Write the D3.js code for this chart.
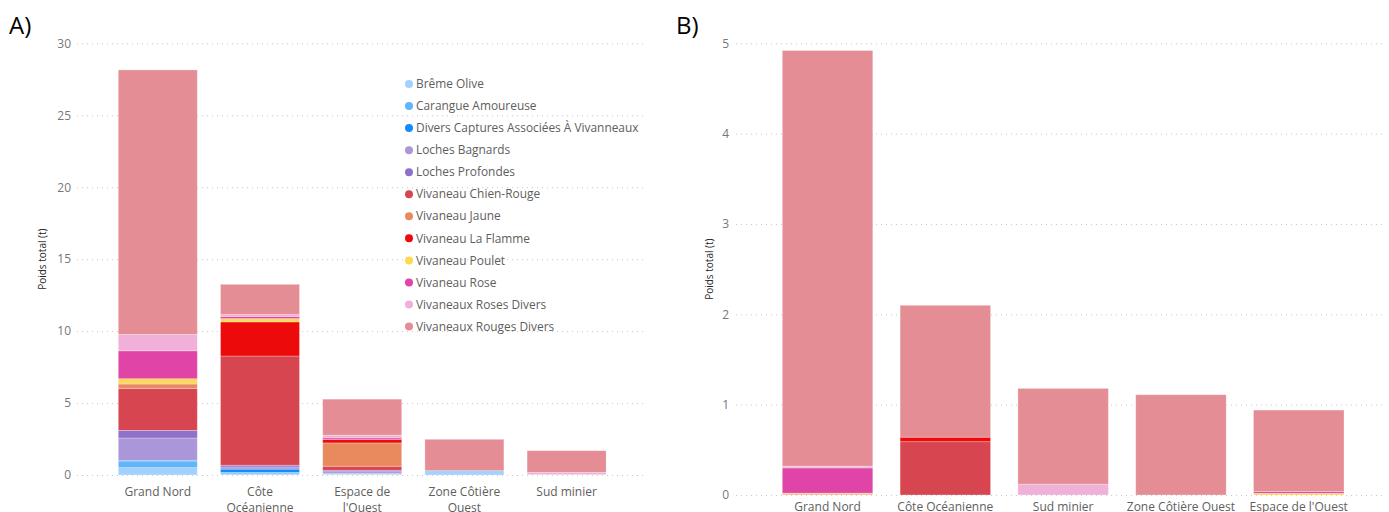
<!DOCTYPE html>
<html>
<head>
<meta charset="utf-8">
<script src="https://cdn.jsdelivr.net/npm/d3@7"></script>
<style>
  html, body { margin: 0; padding: 0; background: #fff; }
  svg { display: block; font-family: "Open Sans", "Noto Sans", sans-serif; }
</style>
</head>
<body>
<svg id="chart" width="1389" height="512"></svg>
<script>
// Species (stack order, bottom to top) and their colours
const species = [
  "Brême Olive", "Carangue Amoureuse", "Divers Captures Associées À Vivanneaux",
  "Loches Bagnards", "Loches Profondes", "Vivaneau Chien-Rouge", "Vivaneau Jaune",
  "Vivaneau La Flamme", "Vivaneau Poulet", "Vivaneau Rose",
  "Vivaneaux Roses Divers", "Vivaneaux Rouges Divers"
];
const speciesColors = [
  "#A0D1FF", "#62B5FB", "#118DFF", "#AB96DA", "#8F70CB", "#D64550", "#E98A5E",
  "#EC0A0A", "#FFD94F", "#E044A7", "#F1B0D8", "#E48D95"
];

// Panel A: total weight per zone (t)
const zonesA = ["Grand Nord", "Côte Océanienne", "Espace de l'Ouest", "Zone Côtière Ouest", "Sud minier"];
const valuesA = [
  [0.51, 0.08, 0.05, 0.30, 0.03],
  [0.46, 0.10, 0.03, 0.00, 0.00],
  [0.05, 0.23, 0.02, 0.00, 0.00],
  [1.55, 0.15, 0.13, 0.00, 0.00],
  [0.53, 0.12, 0.10, 0.00, 0.00],
  [2.92, 7.59, 0.28, 0.00, 0.00],
  [0.30, 0.00, 1.62, 0.00, 0.00],
  [0.04, 2.37, 0.24, 0.00, 0.00],
  [0.33, 0.23, 0.00, 0.00, 0.00],
  [1.94, 0.15, 0.11, 0.00, 0.00],
  [1.14, 0.13, 0.19, 0.00, 0.15],
  [18.38, 2.10, 2.50, 2.18, 1.51]
];
const ticksA = [0, 5, 10, 15, 20, 25, 30];

// Panel B: total weight per zone (t)
const zonesB = ["Grand Nord", "Côte Océanienne", "Sud minier", "Zone Côtière Ouest", "Espace de l'Ouest"];
const valuesB = [
  [0.00, 0.00, 0.00, 0.00, 0.00],
  [0.00, 0.00, 0.00, 0.00, 0.00],
  [0.00, 0.00, 0.00, 0.00, 0.00],
  [0.00, 0.00, 0.00, 0.00, 0.00],
  [0.00, 0.00, 0.00, 0.00, 0.00],
  [0.00, 0.59, 0.00, 0.00, 0.00],
  [0.01, 0.00, 0.00, 0.00, 0.00],
  [0.00, 0.05, 0.00, 0.00, 0.00],
  [0.01, 0.00, 0.00, 0.00, 0.02],
  [0.28, 0.00, 0.00, 0.00, 0.02],
  [0.02, 0.00, 0.12, 0.00, 0.00],
  [4.60, 1.46, 1.06, 1.11, 0.90]
];
const ticksB = [0, 1, 2, 3, 4, 5];

const yTitle = "Poids total (t)";

const svg = d3.select("#chart");

function wrapLabel(text, width) {
  text.each(function () {
    const t = d3.select(this);
    const words = t.text().split(/\s+/);
    const x = t.attr("x"), y = t.attr("y");
    t.text(null);
    let line = [];
    let lineNo = 0;
    let tspan = t.append("tspan").attr("x", x).attr("y", y);
    for (const w of words) {
      line.push(w);
      tspan.text(line.join(" "));
      if (tspan.node().getComputedTextLength() > width && line.length > 1) {
        line.pop();
        tspan.text(line.join(" "));
        line = [w];
        lineNo++;
        tspan = t.append("tspan").attr("x", x).attr("y", +y + lineNo * 16).text(w);
      }
    }
  });
}

function drawPanel(opt) {
  const g = svg.append("g");
  const y = d3.scaleLinear().domain([0, opt.ymax]).range([opt.y0, opt.y1]);
  const x = d3.scaleBand().domain(opt.zones)
    .range([opt.xStart, opt.xEnd]).paddingInner(opt.pad).paddingOuter(opt.pad / 2);

  // dotted gridlines
  g.selectAll("line.grid").data(opt.ticks).join("line")
    .attr("class", "grid")
    .attr("x1", opt.gridX0).attr("x2", opt.gridX1)
    .attr("y1", d => y(d) + 0.5).attr("y2", d => y(d) + 0.5)
    .attr("stroke", "#c8c8c8").attr("stroke-width", 1)
    .attr("stroke-dasharray", "1,4");

  // y axis tick labels
  const yAxis = d3.axisLeft(y).tickValues(opt.ticks).tickFormat(d3.format("d"))
    .tickSize(0).tickPadding(0);
  const ya = g.append("g").attr("transform", `translate(${opt.tickX},0)`).call(yAxis);
  ya.select(".domain").remove();
  ya.selectAll("text").attr("fill", "#777").attr("font-size", "12px")
    .attr("font-family", "'Open Sans', sans-serif");

  // y axis title
  g.append("text")
    .attr("transform", `translate(${opt.titleX},${(opt.y0 + opt.y1) / 2}) rotate(-90)`)
    .attr("text-anchor", "middle").attr("dy", "0.35em")
    .attr("font-size", "10px").attr("fill", "#252423")
    .text(yTitle);

  // stacked bars
  const rows = opt.zones.map((z, j) => {
    const r = { zone: z };
    species.forEach((s, i) => { r[s] = opt.values[i][j]; });
    return r;
  });
  const stacked = d3.stack().keys(species)(rows);
  g.selectAll("g.layer").data(stacked).join("g")
    .attr("class", "layer")
    .attr("fill", (d, i) => speciesColors[i])
    .selectAll("rect").data(d => d.filter(p => p[1] - p[0] > 0)).join("rect")
    .attr("x", d => x(d.data.zone))
    .attr("width", x.bandwidth())
    .attr("y", d => y(d[1]))
    .attr("height", d => y(d[0]) - y(d[1]))
    .attr("stroke", "rgba(255,255,255,0.35)")
    .attr("stroke-width", 0.8);

  // x axis labels
  const xl = g.selectAll("text.xl").data(opt.zones).join("text")
    .attr("class", "xl")
    .attr("x", d => x(d) + x.bandwidth() / 2)
    .attr("y", opt.labelY)
    .attr("text-anchor", "middle")
    .attr("font-size", "12px").attr("fill", "#605E5C")
    .text(d => d);
  if (opt.wrap) xl.call(wrapLabel, x.bandwidth());

  // panel letter
  svg.append("text").attr("x", opt.letterX).attr("y", 34)
    .attr("font-size", "24px").attr("fill", "#000")
    .attr("font-family", "'Open Sans', sans-serif")
    .text(opt.letter);
}

drawPanel({
  zones: zonesA, values: valuesA, ticks: ticksA, ymax: 30,
  y0: 475, y1: 43.3, xStart: 106.7, xEnd: 617.7, pad: 0.227,
  gridX0: 77, gridX1: 645, tickX: 71, titleX: 42, labelY: 496,
  wrap: true, letter: "A)", letterX: 9
});

drawPanel({
  zones: zonesB, values: valuesB, ticks: ticksB, ymax: 5,
  y0: 495, y1: 43.3, xStart: 768.65, xEnd: 1357.65, pad: 0.232,
  gridX0: 736, gridX1: 1386, tickX: 729, titleX: 709, labelY: 511,
  wrap: false, letter: "B)", letterX: 676
});

// Legend for panel A
const legend = svg.append("g").attr("transform", "translate(409,84)");
const items = legend.selectAll("g").data(species).join("g")
  .attr("transform", (d, i) => `translate(0,${i * 22.05})`);
items.append("circle").attr("r", 4).attr("cx", 0).attr("cy", 0)
  .attr("fill", (d, i) => speciesColors[i]);
items.append("text").attr("x", 7).attr("y", 0).attr("dy", "0.35em")
  .attr("font-size", "11.9px").attr("fill", "#605E5C")
  .text(d => d);
</script>
</body>
</html>
